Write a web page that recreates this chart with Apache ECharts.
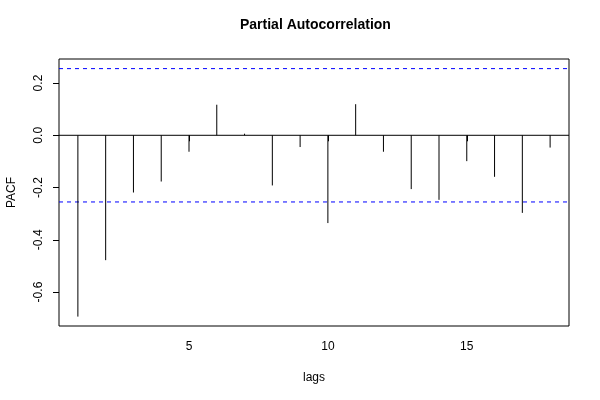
<!DOCTYPE html>
<html>
<head>
<meta charset="utf-8">
<script src="https://cdn.jsdelivr.net/npm/echarts@6/dist/echarts.min.js"></script>
<style>html,body{margin:0;padding:0;background:#fff}#c{width:600px;height:400px}</style>
</head>
<body>
<div id="c"></div>
<script>
const lags = [1,2,3,4,5,6,7,8,9,10,11,12,13,14,15,16,17,18];
const pacf = [-0.694,-0.478,-0.219,-0.177,-0.063,0.117,0.006,-0.192,-0.045,-0.336,0.119,-0.063,-0.206,-0.247,-0.099,-0.159,-0.297,-0.047];
const confLimit = 0.2552;
const xMin = 0.32, xMax = 18.68;
const yMin = -0.73, yMax = 0.292;
const xTicks = [5,10,15];
const yTicks = [-0.6,-0.4,-0.2,0.0,0.2];
const titleText = 'Partial Autocorrelation';
const xName = 'lags';
const yName = 'PACF';

const FONT = '"Liberation Sans", Arial, Helvetica, sans-serif';
const chart = echarts.init(document.getElementById('c'), null, {renderer:'canvas'});

function hLine(y, color, type) {
  return {
    type: 'line', data: [[xMin, y], [xMax, y]], showSymbol: false, symbol: 'none',
    silent: true, z: 1, color: color,
    lineStyle: {color: color, width: 1, type: type}
  };
}

chart.setOption({
  animation: false,
  backgroundColor: '#fff',
  title: {
    text: titleText, left: 235, top: 13,
    textStyle: {fontFamily: FONT, fontSize: 14, fontWeight: 'bold', color: '#000'}
  },
  grid: {left: 59, right: 31, top: 59, bottom: 74, outerBoundsMode: 'none', containLabel: false,
    show: true, borderColor: '#000', borderWidth: 1, backgroundColor: 'transparent'},
  xAxis: {
    type: 'value', min: xMin, max: xMax,
    name: xName, nameLocation: 'middle', nameGap: 46,
    nameTextStyle: {fontFamily: FONT, fontSize: 12, color: '#000'},
    axisLine: {show: false},
    axisTick: {show: true, length: 6, customValues: xTicks, lineStyle: {color: '#000'}},
    axisLabel: {customValues: xTicks, margin: 15, fontFamily: FONT, fontSize: 12, color: '#000'},
    splitLine: {show: false}
  },
  yAxis: {
    type: 'value', min: yMin, max: yMax,
    name: yName, nameLocation: 'middle', nameGap: 41, nameRotate: 90,
    nameTextStyle: {fontFamily: FONT, fontSize: 12, color: '#000'},
    axisLine: {show: false},
    axisTick: {show: true, length: 6, customValues: yTicks, lineStyle: {color: '#000'}},
    axisLabel: {customValues: yTicks, rotate: 90, margin: 14, fontFamily: FONT, fontSize: 12, color: '#000',
      formatter: v => v.toFixed(1)},
    splitLine: {show: false}
  },
  series: [
    hLine(0, '#000000', 'solid'),
    hLine(confLimit, '#0000ff', [4, 4]),
    hLine(-confLimit, '#0000ff', [4, 4]),
    {
      type: 'custom',
      z: 2,
      data: lags.map((l, i) => [l, pacf[i]]),
      renderItem: function (params, api) {
        const p0 = api.coord([api.value(0), 0]);
        const p1 = api.coord([api.value(0), api.value(1)]);
        return {type: 'line', shape: {x1: p0[0], y1: p0[1], x2: p1[0], y2: p1[1]},
          style: {stroke: '#000', lineWidth: 1}};
      }
    }
  ]
});
</script>
</body>
</html>
